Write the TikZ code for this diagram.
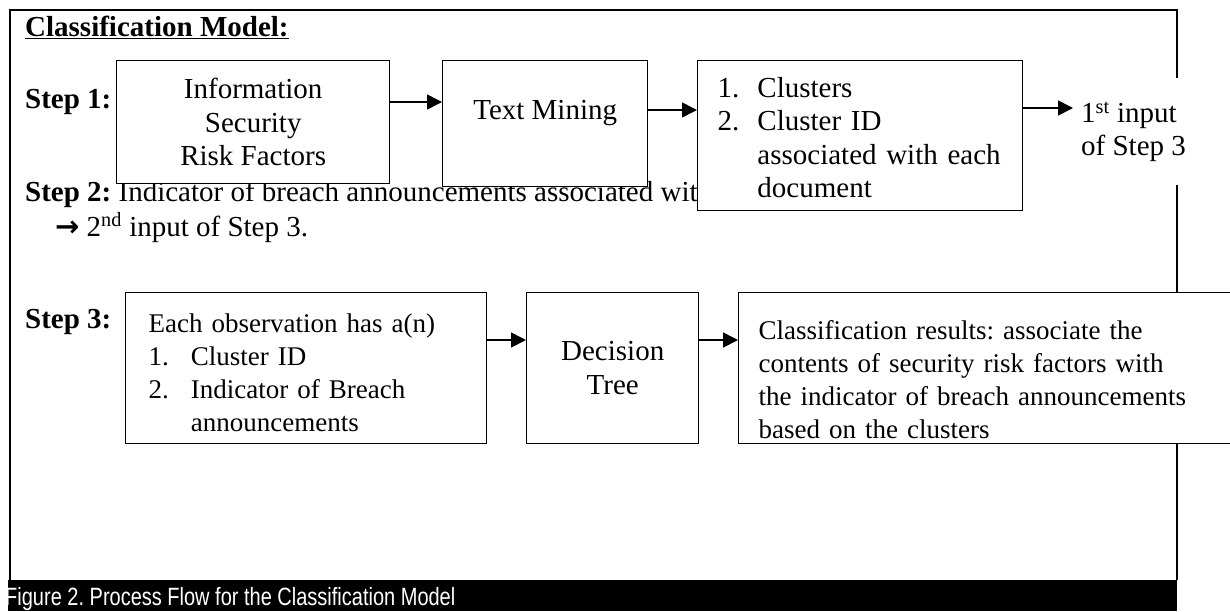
\documentclass[tikz,border=0pt]{standalone}
\usepackage{fontspec}
\setmainfont{Liberation Serif}
\newfontfamily\capfont[FakeStretch=0.8]{Liberation Sans}
\newfontfamily\symfont{DejaVu Sans}
\usetikzlibrary{arrows.meta}
\frenchspacing

\tikzset{
  body/.style={font=\fontsize{29}{33.5}\selectfont},
  small/.style={font=\fontsize{27}{33}\selectfont},
  stepbox/.style={draw, line width=1.4pt, fill=white, inner sep=0pt, anchor=north west, body},
  flow/.style={line width=1.6pt, -{Triangle[length=15pt,width=15pt]}},
}

\begin{document}
\begin{tikzpicture}[x=1pt,y=-1pt]
  \useasboundingbox (0,0) rectangle (1230,611);
  \clip (0,0) rectangle (1230,611);

  %% frame and caption
  \draw[line width=2.2pt] (10,580) -- (10,10) -- (1177,10) -- (1177,580);
  \fill (8,580) rectangle (1177,611);
  \node[anchor=base west, text=white, inner sep=0pt,
        font=\capfont\fontsize{25}{29}\selectfont] (cap) at (5,605)
        {Figure 2. Process Flow for the Classification Model};

  \node[anchor=base west, inner sep=0pt, body] (title) at (25,36)
        {\bfseries\underline{Classification Model:}};

  %% Step 2 text (under the boxes)
  \node[anchor=base west, inner sep=0pt, body] (s2) at (25,201)
        {\textbf{Step 2:} Indicator of breach announcements associated with};
  \node[anchor=base west, inner sep=0pt, body] (s2b) at (55,236)
        {{\symfont\bfseries →} 2\textsuperscript{nd} input of Step 3.};

  %% Step 1
  \node[anchor=base west, inner sep=0pt, body] (s1) at (25,108) {\textbf{Step 1:}};
  \node[stepbox, minimum width=273pt, minimum height=123pt, align=center] (risk) at (116,60)
        {Information\\Security\\Risk Factors};
  \node[stepbox, minimum width=205pt, minimum height=126pt, align=center] (mining) at (442,60)
        {\raisebox{11pt}[\height][\depth]{Text Mining}};
  \node[stepbox, minimum width=325pt, minimum height=150pt, text width=325pt, align=left] (clusters) at (697,60)
        {\raisebox{-5pt}[\height][\depth]{%
         \begin{tabular}{@{\hspace{20pt}}l@{\hspace{18pt}}l@{}}
          1. & Clusters\\
          2. & Cluster ID\\
             & associated with each\\
             & document
         \end{tabular}}};
  \node[anchor=north west, fill=white, inner sep=0pt, minimum height=107pt,
        minimum width=110pt, align=left, body] (input) at (1073,78)
        {\hspace*{8pt}1\textsuperscript{st} input\\\hspace*{8pt}of Step 3};

    \draw[flow] (risk.east |- 0,102) -- (mining.west |- 0,102);
    \draw[flow] (mining.east |- 0,110) -- (clusters.west |- 0,110);
    \draw[flow] (clusters.east |- 0,108) -- (input.west |- 0,108);

  %% Step 3
  \node[anchor=base west, inner sep=0pt, body] (s3) at (25,328) {\textbf{Step 3:}};
  \node[stepbox, small, minimum width=361pt, minimum height=151pt, text width=361pt, align=left] (obs) at (125,292)
        {\raisebox{-7pt}[\height][\depth]{%
         \begin{tabular}{@{\hspace{23pt}}l@{\hspace{22pt}}l@{}}
          \multicolumn{2}{@{\hspace{23pt}}l}{Each observation has a(n)}\\
          1. & Cluster ID\\
          2. & Indicator of Breach\\
             & announcements
         \end{tabular}}};
  \node[stepbox, minimum width=172pt, minimum height=151pt, align=center] (tree) at (526,292)
        {Decision\\Tree};
  \node[stepbox, small, minimum width=520pt, minimum height=151pt, text width=520pt, align=left] (result) at (738,292)
        {\raisebox{-14pt}[\height][\depth]{%
         \begin{tabular}{@{\hspace{20pt}}l@{}}
          Classification results: associate the\\
          contents of security risk factors with\\
          the indicator of breach announcements\\
          based on the clusters
         \end{tabular}}};

    \draw[flow] (obs.east |- 0,340) -- (tree.west |- 0,340);
    \draw[flow] (tree.east |- 0,340) -- (result.west |- 0,340);
\end{tikzpicture}
\end{document}
